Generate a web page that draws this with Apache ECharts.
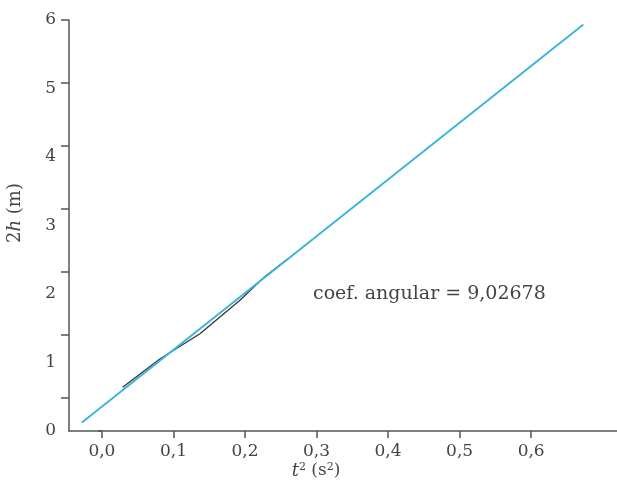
<!DOCTYPE html>
<html>
<head>
<meta charset="utf-8">
<script src="https://cdn.jsdelivr.net/npm/echarts@6/dist/echarts.min.js"></script>
<style>
    html, body { margin: 0; padding: 0; background: #fff; }
    #grafico { width: 617px; height: 494px; }
</style>
</head>
<body>
<div id="grafico"></div>
<script>
// pontos medidos: t^2 (s^2) x 2h (m)
var tempo2 = [0.029, 0.081, 0.137, 0.193, 0.228, 0.26];
var alturas = [0.17, 0.62, 1.02, 1.55, 1.93, 2.21];

// reta ajustada (extremos)
var ajusteX = [-0.028, 0.673];
var ajusteY = [-0.39, 5.93];

var xTicks = [0, 0.1, 0.2, 0.3, 0.4, 0.5, 0.6];
var yTicks = [0, 1, 2, 3, 4, 5, 6];
var yRotulos = ['0', '1', '2', '3', '4', '5', '6'];
var coefAngular = '9,02678';

window.onload = function () {
    desenha();
}

function zip(a, b) {
    return a.map(function (v, i) { return [v, b[i]]; });
}

function desenha() {
    let chart = echarts.init(document.querySelector('#grafico'));
    let fonte = 'DejaVu Serif';
    let corTexto = '#444';
    let corEixo = '#555';

    let option = {
        animation: false,
        grid: {
            left: 69,
            right: 0,
            top: 20,
            bottom: 63,
            containLabel: false,
            outerBoundsMode: 'none'
        },
        xAxis: {
            type: 'value',
            min: -0.046,
            max: 0.72,
            splitLine: { show: false },
            axisLine: { show: true, onZero: false, lineStyle: { color: corEixo, width: 1.5 } },
            axisTick: {
                show: true,
                length: 7,
                customValues: xTicks,
                lineStyle: { color: corEixo, width: 1.5 }
            },
            axisLabel: {
                show: true,
                customValues: xTicks,
                margin: 12,
                color: corTexto,
                fontFamily: fonte,
                fontSize: 17,
                formatter: function (v) {
                    return v.toFixed(1).replace('.', ',');
                }
            }
        },
        yAxis: [
            {
                // escala dos dados (marcas)
                type: 'value',
                min: -0.524,
                max: 6,
                position: 'left',
                splitLine: { show: false },
                axisLine: { show: true, onZero: false, lineStyle: { color: corEixo, width: 1.5 } },
                axisTick: {
                    show: true,
                    length: 8,
                    customValues: yTicks,
                    lineStyle: { color: corEixo, width: 1.5 }
                },
                axisLabel: { show: false }
            },
            {
                // rótulos como aparecem na figura
                type: 'value',
                min: 0,
                max: 6,
                interval: 1,
                position: 'left',
                splitLine: { show: false },
                axisLine: { show: false },
                axisTick: {
                    show: true,
                    length: 4,
                    customValues: [0],
                    lineStyle: { color: corEixo, width: 1.5 }
                },
                axisLabel: {
                    show: true,
                    margin: 13,
                    color: corTexto,
                    fontFamily: fonte,
                    fontSize: 17,
                    formatter: function (v) {
                        return yRotulos[yTicks.indexOf(v)];
                    }
                }
            }
        ],
        series: [
            {
                name: 'medidas',
                type: 'line',
                yAxisIndex: 0,
                showSymbol: false,
                lineStyle: { color: '#333', width: 1.3 },
                data: zip(tempo2, alturas)
            },
            {
                name: 'ajuste',
                type: 'line',
                yAxisIndex: 0,
                showSymbol: false,
                lineStyle: { color: '#3db4da', width: 2 },
                data: zip(ajusteX, ajusteY)
            }
        ],
        graphic: [
            {
                type: 'text',
                x: 15,
                y: 213,
                rotation: Math.PI / 2,
                style: {
                    text: '2{i|h} (m)',
                    fill: corTexto,
                    font: '18px "DejaVu Serif"',
                    align: 'center',
                    verticalAlign: 'middle',
                    rich: {
                        i: { fontStyle: 'italic', fontFamily: fonte, fontSize: 18, fill: corTexto }
                    }
                }
            },
            {
                type: 'text',
                x: 316,
                y: 471,
                style: {
                    text: '{i|t}{sup|2} (s{sup|2})',
                    fill: corTexto,
                    font: '17px "DejaVu Serif"',
                    align: 'center',
                    verticalAlign: 'middle',
                    rich: {
                        i: { fontStyle: 'italic', fontFamily: fonte, fontSize: 18, fill: corTexto },
                        sup: { fontFamily: fonte, fontSize: 11, fill: corTexto, verticalAlign: 'top', padding: [0, 0, 8, 0] }
                    }
                }
            },
            {
                type: 'text',
                left: 313,
                top: 285,
                style: {
                    text: 'coef. angular = ' + coefAngular,
                    fill: corTexto,
                    font: '19px "DejaVu Serif"'
                }
            }
        ]
    };

    chart.setOption(option);
    return chart;
}
</script>
</body>
</html>
